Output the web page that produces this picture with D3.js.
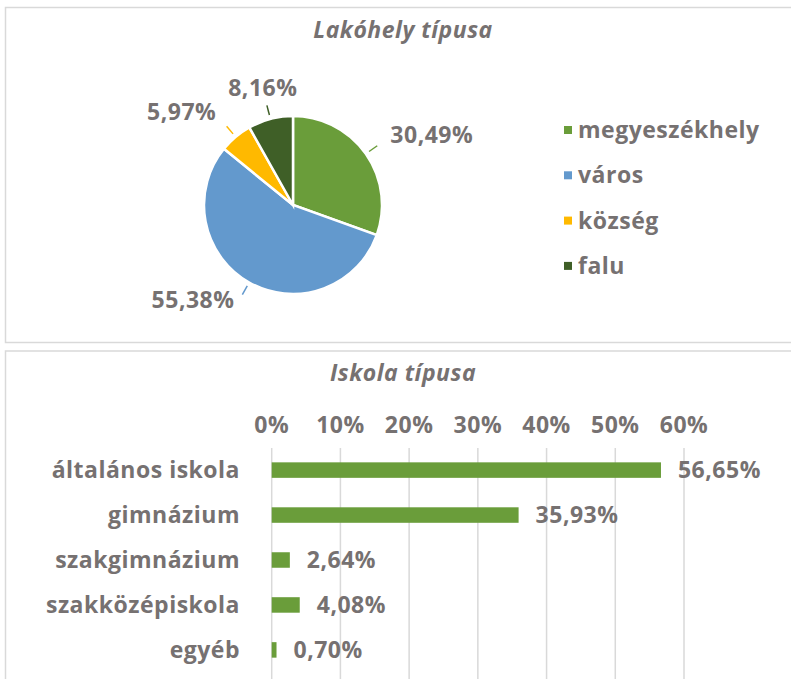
<!DOCTYPE html>
<html>
<head>
<meta charset="utf-8">
<script src="https://cdn.jsdelivr.net/npm/d3@7"></script>
<style>
  body { margin: 0; background: #fff; }
  text { font-family: 'Open Sans', sans-serif; font-weight: bold; fill: #767171; font-size: 23px; letter-spacing: 0.5px; }
</style>
</head>
<body>
<script>
// Data
const pieLabels = ['megyeszékhely', 'város', 'község', 'falu']
const pieValues = [30.49, 55.38, 5.97, 8.16]
const pieColors = ['#6a9d3a', '#6399cd', '#ffb900', '#3f5f27']

const barLabels = ['általános iskola', 'gimnázium', 'szakgimnázium', 'szakközépiskola', 'egyéb']
const barValues = [56.65, 35.93, 2.64, 4.08, 0.70]
const barTicks = [0, 10, 20, 30, 40, 50, 60]

const fmt = v => v.toFixed(2).replace('.', ',') + '%'

const svg = d3.select('body').append('svg')
    .attr('width', 791)
    .attr('height', 679)

// Panels
svg.append('rect')
    .attr('x', 5.5).attr('y', 7.5).attr('width', 800).attr('height', 335)
    .style('fill', 'none').style('stroke', '#d9d9d9').style('stroke-width', 1.5)
svg.append('rect')
    .attr('x', 5.5).attr('y', 351).attr('width', 800).attr('height', 400)
    .style('fill', 'none').style('stroke', '#d9d9d9').style('stroke-width', 1.5)

// Titles
svg.append('text').attr('x', 403).attr('y', 38)
    .attr('text-anchor', 'middle').style('font-style', 'italic')
    .text('Lakóhely típusa')
svg.append('text').attr('x', 403).attr('y', 381)
    .attr('text-anchor', 'middle').style('font-style', 'italic')
    .text('Iskola típusa')

// Pie
const r = 89
const pieG = svg.append('g').attr('transform', 'translate(293 205)')
const pie = d3.pie().sort(null).value(d => d)
const arcs = pie(pieValues)
const arc = d3.arc().innerRadius(0).outerRadius(r)

pieG.selectAll('.slice')
    .data(arcs)
    .enter().append('path')
    .attr('class', 'slice')
    .attr('d', arc)
    .style('fill', (d, i) => pieColors[i])
    .style('stroke', 'white')
    .style('stroke-width', 2.5)

const polar = (a, rad) => [Math.sin(a) * rad, -Math.cos(a) * rad]

// leader lines + labels
arcs.forEach((d, i) => {
    const a = (d.startAngle + d.endAngle) / 2
    const p0 = polar(a, r + 4)
    const p1 = polar(a, r + 14)
    pieG.append('line')
        .attr('x1', p0[0]).attr('y1', p0[1])
        .attr('x2', p1[0]).attr('y2', p1[1])
        .style('stroke', pieColors[i]).style('stroke-width', 1.5)
    const s = Math.sin(a), c = Math.cos(a)
    const anchor = Math.abs(s) < 0.4 ? 'middle' : (s > 0 ? 'start' : 'end')
    pieG.append('text')
        .attr('x', p1[0] + s * 16)
        .attr('y', p1[1] - c * (c > 0 ? 18 : 6) + 8)
        .attr('text-anchor', anchor)
        .text(fmt(pieValues[i]))
})

// Legend
const legend = svg.append('g').attr('transform', 'translate(564 130)')
pieLabels.forEach((l, i) => {
    const g = legend.append('g').attr('transform', `translate(0 ${i * 45.3})`)
    g.append('rect').attr('x', 0).attr('y', -4).attr('width', 8).attr('height', 8)
        .style('fill', pieColors[i])
    g.append('text').attr('x', 14).attr('y', 8).text(l)
})

// Bar chart
const xScale = d3.scaleLinear()
    .domain([0, 60])
    .range([271.7, 684])

const yScale = d3.scaleBand()
    .domain(barLabels)
    .range([447.5, 672.5])
    .paddingInner(0.655)
    .paddingOuter(0.33)

svg.append('g')
    .selectAll('line')
    .data(barTicks)
    .enter().append('line')
    .attr('x1', d => xScale(d)).attr('x2', d => xScale(d))
    .attr('y1', 448).attr('y2', 679)
    .style('stroke', '#d9d9d9').style('stroke-width', 1.5)

svg.append('g')
    .selectAll('text')
    .data(barTicks)
    .enter().append('text')
    .attr('x', d => xScale(d))
    .attr('y', 433)
    .attr('text-anchor', 'middle')
    .text(d => d + '%')

const bh = 15.5

svg.append('g')
    .selectAll('rect')
    .data(barValues)
    .enter().append('rect')
    .attr('x', xScale(0))
    .attr('y', (d, i) => yScale(barLabels[i]) + yScale.bandwidth() / 2 - bh / 2)
    .attr('width', d => xScale(d) - xScale(0))
    .attr('height', bh)
    .style('fill', '#6a9d3a')

svg.append('g')
    .selectAll('text')
    .data(barValues)
    .enter().append('text')
    .attr('x', d => xScale(d) + 17)
    .attr('y', (d, i) => yScale(barLabels[i]) + yScale.bandwidth() / 2 + 8)
    .text(d => fmt(d))

svg.append('g')
    .selectAll('text')
    .data(barLabels)
    .enter().append('text')
    .attr('x', 240)
    .attr('y', d => yScale(d) + yScale.bandwidth() / 2 + 8)
    .attr('text-anchor', 'end')
    .text(d => d)
</script>
</body>
</html>
